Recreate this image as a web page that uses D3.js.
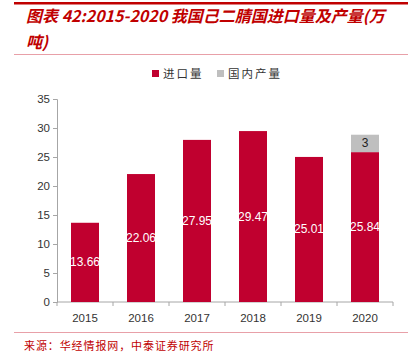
<!DOCTYPE html>
<html><head><meta charset="utf-8">
<script src="https://cdn.jsdelivr.net/npm/d3@7"></script>
<style>body{margin:0;background:#fff}svg{display:block}</style>
</head><body>
<svg id="c" width="410" height="360"></svg>
<script>
const years = ["2015","2016","2017","2018","2019","2020"];
const imports = [13.66, 22.06, 27.95, 29.47, 25.01, 25.84];
const domestic = [0, 0, 0, 0, 0, 3];
const yTicks = [0,5,10,15,20,25,30,35];
const seriesNames = ["进口量","国内产量"];
const colors = ["#C0002F","#BFBFBF"];

const svg = d3.select("#c");
const cjk = "'Noto Sans CJK SC', sans-serif";
const latin = "'Liberation Sans', Arial, sans-serif";

// header lines
svg.append("rect").attr("x",14).attr("y",2).attr("width",394).attr("height",2.5).attr("fill","#C00000");
svg.append("line").attr("x1",14).attr("x2",408).attr("y1",54.5).attr("y2",54.5).attr("stroke","#E8A0A8").attr("stroke-width",1);

const title = svg.append("text").attr("fill","#C00000").attr("font-style","italic").attr("font-weight","bold")
  .attr("font-size",16).attr("font-family",cjk);
title.append("tspan").attr("x",26).attr("y",22).text("图表 42:2015-2020 我国己二腈国进口量及产量(万");
title.append("tspan").attr("x",26).attr("y",48).text("吨)");

// scales
const x = d3.scaleBand().domain(years).range([57,393]).paddingInner(0.5).paddingOuter(0.25);
const y = d3.scaleLinear().domain([0,35]).range([302,99]);

// axes
const yAxis = svg.append("g").attr("transform","translate(57,0)")
  .call(d3.axisLeft(y).tickValues(yTicks).tickSize(4).tickPadding(3));
yAxis.select(".domain").attr("stroke","#A6A6A6");
yAxis.selectAll(".tick line").attr("stroke","#A6A6A6");
yAxis.selectAll("text").attr("font-family",latin).attr("font-size",11.5).attr("fill","#333");

const xScaleTicks = d3.scalePoint().domain(d3.range(years.length+1)).range([57,393]);
const xAxis = svg.append("g").attr("transform","translate(0,302)");
xAxis.append("line").attr("x1",57).attr("x2",393).attr("stroke","#A6A6A6");
xAxis.selectAll("line.t").data(d3.range(years.length+1)).join("line").attr("class","t")
  .attr("x1",d=>xScaleTicks(d)).attr("x2",d=>xScaleTicks(d)).attr("y1",0).attr("y2",4).attr("stroke","#A6A6A6");
xAxis.selectAll("text").data(years).join("text")
  .attr("x",d=>x(d)+x.bandwidth()/2).attr("y",20).attr("text-anchor","middle")
  .attr("font-family",latin).attr("font-size",11.5).attr("fill","#333").text(d=>d);

// bars
const data = years.map((yr,i)=>({yr, a:imports[i], b:domestic[i]}));
svg.selectAll("rect.imp").data(data).join("rect").attr("class","imp")
  .attr("x",d=>x(d.yr)).attr("width",x.bandwidth())
  .attr("y",d=>y(d.a)).attr("height",d=>y(0)-y(d.a)).attr("fill",colors[0]);
svg.selectAll("rect.dom").data(data.filter(d=>d.b>0)).join("rect").attr("class","dom")
  .attr("x",d=>x(d.yr)).attr("width",x.bandwidth())
  .attr("y",d=>y(d.a+d.b)).attr("height",d=>y(d.a)-y(d.a+d.b)).attr("fill",colors[1]);

svg.selectAll("text.lblA").data(data).join("text").attr("class","lblA")
  .attr("x",d=>x(d.yr)+x.bandwidth()/2).attr("y",d=>(y(d.a)+y(0))/2+4)
  .attr("text-anchor","middle").attr("font-family",latin).attr("font-size",12).attr("fill","#fff")
  .text(d=>d.a.toFixed(2));
svg.selectAll("text.lblB").data(data.filter(d=>d.b>0)).join("text").attr("class","lblB")
  .attr("x",d=>x(d.yr)+x.bandwidth()/2).attr("y",d=>(y(d.a)+y(d.a+d.b))/2+4)
  .attr("text-anchor","middle").attr("font-family",latin).attr("font-size",12).attr("fill","#222")
  .text(d=>d.b);

// legend
const legX = [152,217];
seriesNames.forEach((n,i)=>{
  svg.append("rect").attr("x",legX[i]).attr("y",70).attr("width",7).attr("height",7).attr("fill",colors[i]);
  svg.append("text").attr("x",legX[i]+11).attr("y",78).attr("font-family",cjk).attr("font-size",11.5)
    .attr("fill","#333").attr("letter-spacing",2).text(n);
});

// footer
svg.append("line").attr("x1",14).attr("x2",408).attr("y1",332.5).attr("y2",332.5).attr("stroke","#E8A0A8").attr("stroke-width",1);
svg.append("text").attr("x",24).attr("y",350).attr("font-family",cjk).attr("font-size",11)
  .attr("fill","#C00000").attr("letter-spacing",0.9).text("来源：华经情报网，中泰证券研究所");
</script>
</body></html>
